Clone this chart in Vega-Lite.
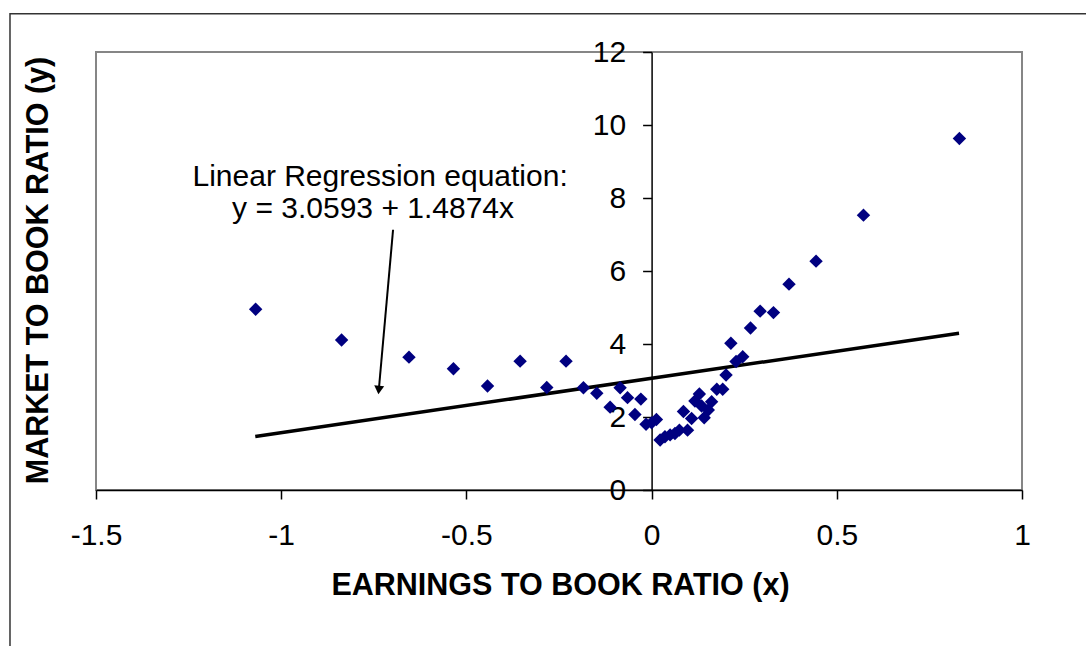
{
  "$schema": "https://vega.github.io/schema/vega-lite/v6.json",
  "width": 926,
  "height": 438,
  "autosize": {"type": "none"},
  "padding": {"left": 96, "top": 52, "right": 64, "bottom": 156},
  "background": "white",
  "config": {
    "view": {"stroke": "#868686", "strokeWidth": 2},
    "font": "Liberation Sans"
  },
  "data": {"values": [{}]},
  "datasets": {
    "points": [
      {"x": -1.069, "y": 4.95}, {"x": -0.837, "y": 4.11}, {"x": -0.655, "y": 3.64},
      {"x": -0.535, "y": 3.32}, {"x": -0.443, "y": 2.85}, {"x": -0.355, "y": 3.53},
      {"x": -0.283, "y": 2.81}, {"x": -0.231, "y": 3.53}, {"x": -0.184, "y": 2.80},
      {"x": -0.148, "y": 2.65}, {"x": -0.112, "y": 2.27}, {"x": -0.085, "y": 2.80},
      {"x": -0.065, "y": 2.53}, {"x": -0.045, "y": 2.07}, {"x": -0.029, "y": 2.49},
      {"x": -0.015, "y": 1.80}, {"x": 0.0, "y": 1.84}, {"x": 0.013, "y": 1.93},
      {"x": 0.023, "y": 1.37}, {"x": 0.036, "y": 1.46}, {"x": 0.050, "y": 1.51},
      {"x": 0.063, "y": 1.55}, {"x": 0.075, "y": 1.64}, {"x": 0.086, "y": 2.15},
      {"x": 0.097, "y": 1.64}, {"x": 0.108, "y": 1.96}, {"x": 0.117, "y": 2.44},
      {"x": 0.129, "y": 2.63}, {"x": 0.135, "y": 2.30}, {"x": 0.142, "y": 1.98},
      {"x": 0.153, "y": 2.19}, {"x": 0.162, "y": 2.42}, {"x": 0.176, "y": 2.76},
      {"x": 0.192, "y": 2.76}, {"x": 0.201, "y": 3.15}, {"x": 0.214, "y": 4.02},
      {"x": 0.228, "y": 3.52}, {"x": 0.246, "y": 3.65}, {"x": 0.267, "y": 4.44},
      {"x": 0.293, "y": 4.90}, {"x": 0.329, "y": 4.86}, {"x": 0.371, "y": 5.64},
      {"x": 0.444, "y": 6.27}, {"x": 0.572, "y": 7.53}, {"x": 0.831, "y": 9.63}
    ],
    "fit": [{"x": -1.07, "y": 1.468}, {"x": 0.83, "y": 4.294}],
    "arrow": [{"x": -0.698, "y": 7.13}, {"x": -0.7365, "y": 2.74}]
  },
  "layer": [
    {
      "data": {"name": "points"},
      "mark": {"type": "point", "shape": "diamond", "filled": true, "color": "#000080", "size": 0, "opacity": 0},
      "encoding": {
        "x": {
          "field": "x", "type": "quantitative",
          "scale": {"domain": [-1.5, 1], "nice": false, "zero": false},
          "axis": {
            "values": [-1.5, -1, -0.5, 0, 0.5, 1],
            "labelExpr": "toString(datum.value)",
            "title": "EARNINGS TO BOOK RATIO (x)",
            "grid": false,
            "domainColor": "black", "domainWidth": 1.5,
            "tickColor": "black", "tickWidth": 1.5, "tickSize": 9,
            "labelFont": "Liberation Sans", "labelFontSize": 30, "labelColor": "black",
            "labelPadding": 21, "labelFlush": false, "labelOverlap": false,
            "titleFont": "Liberation Sans", "titleFontSize": 30.5, "titleFontWeight": "bold", "titleColor": "black",
            "titleBaseline": "alphabetic", "titleY": 104, "titleX": 464
          }
        },
        "y": {
          "field": "y", "type": "quantitative",
          "scale": {"domain": [0, 12], "nice": false, "zero": false},
          "axis": {
            "values": [0, 2, 4, 6, 8, 10, 12],
            "labelExpr": "toString(datum.value)",
            "offset": -555.6,
            "title": "MARKET TO BOOK RATIO (y)",
            "grid": false,
            "domainColor": "black", "domainWidth": 1.5,
            "tickColor": "black", "tickWidth": 1.5, "tickSize": 9,
            "labelFont": "Liberation Sans", "labelFontSize": 30, "labelColor": "black",
            "labelPadding": 17, "labelFlush": false, "labelOverlap": false,
            "titleFont": "Liberation Sans", "titleFontSize": 30.5, "titleFontWeight": "bold", "titleColor": "black",
            "titleAngle": -90, "titleAlign": "center", "titleBaseline": "alphabetic",
            "titleX": -604.6, "titleY": 218
          }
        }
      }
    },
    {
      "mark": {"type": "rect", "filled": false, "stroke": "#333333", "strokeWidth": 1.5, "clip": false},
      "encoding": {
        "x": {"datum": -1.7322, "type": "quantitative", "scale": {"domain": [-1.5, 1], "nice": false, "zero": false}},
        "x2": {"datum": 1.4},
        "y": {"datum": 13.05, "type": "quantitative", "scale": {"domain": [0, 12], "nice": false, "zero": false}},
        "y2": {"datum": -6}
      }
    },
    {
      "data": {"name": "fit"},
      "mark": {"type": "line", "color": "black", "strokeWidth": 3.5},
      "encoding": {
        "x": {"field": "x", "type": "quantitative", "scale": {"domain": [-1.5, 1], "nice": false, "zero": false}},
        "y": {"field": "y", "type": "quantitative", "scale": {"domain": [0, 12], "nice": false, "zero": false}}
      }
    },
    {
      "data": {"name": "arrow"},
      "mark": {"type": "line", "color": "black", "strokeWidth": 2},
      "encoding": {
        "x": {"field": "x", "type": "quantitative", "scale": {"domain": [-1.5, 1], "nice": false, "zero": false}},
        "y": {"field": "y", "type": "quantitative", "scale": {"domain": [0, 12], "nice": false, "zero": false}}
      }
    },
    {
      "mark": {"type": "point", "shape": "triangle-down", "filled": true, "color": "black", "size": 100, "angle": 5.5, "opacity": 1},
      "encoding": {
        "x": {"datum": -0.7365, "type": "quantitative", "scale": {"domain": [-1.5, 1], "nice": false, "zero": false}},
        "y": {"datum": 2.74, "type": "quantitative", "scale": {"domain": [0, 12], "nice": false, "zero": false}}
      }
    },
    {
      "mark": {"type": "text", "font": "Liberation Sans", "fontSize": 30, "color": "black", "align": "center", "baseline": "alphabetic"},
      "encoding": {
        "x": {"datum": -0.733, "type": "quantitative", "scale": {"domain": [-1.5, 1], "nice": false, "zero": false}},
        "y": {"datum": 8.33, "type": "quantitative", "scale": {"domain": [0, 12], "nice": false, "zero": false}},
        "text": {"value": "Linear Regression equation:"}
      }
    },
    {
      "mark": {"type": "text", "font": "Liberation Sans", "fontSize": 30, "color": "black", "align": "center", "baseline": "alphabetic"},
      "encoding": {
        "x": {"datum": -0.752, "type": "quantitative", "scale": {"domain": [-1.5, 1], "nice": false, "zero": false}},
        "y": {"datum": 7.45, "type": "quantitative", "scale": {"domain": [0, 12], "nice": false, "zero": false}},
        "text": {"value": "y = 3.0593 + 1.4874x"}
      }
    },
    {
      "data": {"name": "points"},
      "mark": {"type": "point", "shape": "diamond", "filled": true, "color": "#000080", "size": 180, "opacity": 1},
      "encoding": {
        "x": {"field": "x", "type": "quantitative", "scale": {"domain": [-1.5, 1], "nice": false, "zero": false}},
        "y": {"field": "y", "type": "quantitative", "scale": {"domain": [0, 12], "nice": false, "zero": false}}
      }
    }
  ]
}
